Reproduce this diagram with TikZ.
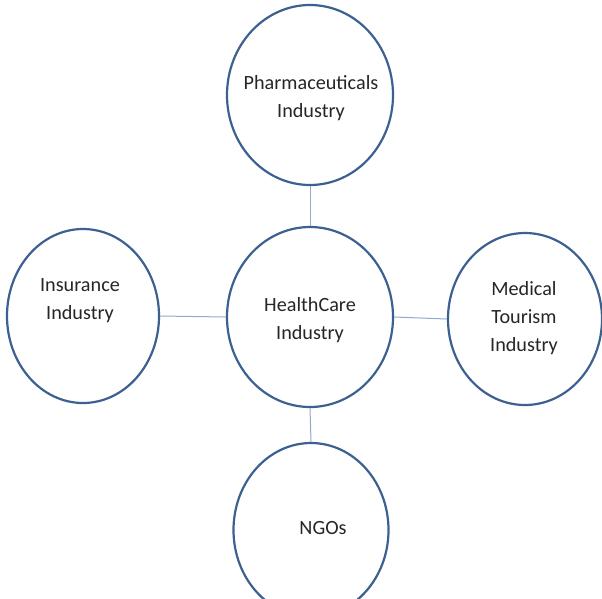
\documentclass[tikz,border=0pt]{standalone}
\usepackage{fontspec}
\setmainfont{Carlito}
\usetikzlibrary{shapes.geometric}
\definecolor{ring}{HTML}{3C6190}
\definecolor{link}{HTML}{8FAAD0}
\definecolor{txt}{HTML}{262626}
\tikzset{
  bubble/.style={ellipse, draw=ring, line width=2.2pt, fill=white, inner sep=0pt},
  lbl/.style={align=center, text=txt, font=\fontsize{20.2}{28}\selectfont, inner sep=0pt},
  link/.style={draw=link, line width=1pt}
}
\begin{document}
\begin{tikzpicture}[x=1pt,y=-1pt]
\useasboundingbox (0,0) rectangle (602,598);
\clip (0,0) rectangle (602,598);
\node[bubble, minimum width=166pt, minimum height=180pt] (pharma) at (310,95) {};
\node[bubble, minimum width=166pt, minimum height=180pt] (health) at (310,317) {};
\node[bubble, minimum width=152pt, minimum height=174pt] (ins) at (83,316) {};
\node[bubble, minimum width=154pt, minimum height=172pt] (med) at (525,319) {};
\node[bubble, minimum width=155pt, minimum height=174pt] (ngo) at (311,530) {};
\draw[link] (pharma.south) -- (health.north);
\draw[link] (ins.east) -- (health.west);
\draw[link] (health.east) -- (med.west);
\draw[link] (health.south) -- (ngo.north);
\node[lbl] (tpharma) at (311,98) {Pharmaceuticals\\Industry};
\node[lbl] (thealth) at (310,320) {HealthCare\\Industry};
\node[lbl] (tins) at (80,301) {Insurance\\Industry};
\node[lbl] (tmed) at (524,318) {Medical\\Tourism\\Industry};
\node[lbl] (tngo) at (323,528) {NGOs};
\end{tikzpicture}
\end{document}
